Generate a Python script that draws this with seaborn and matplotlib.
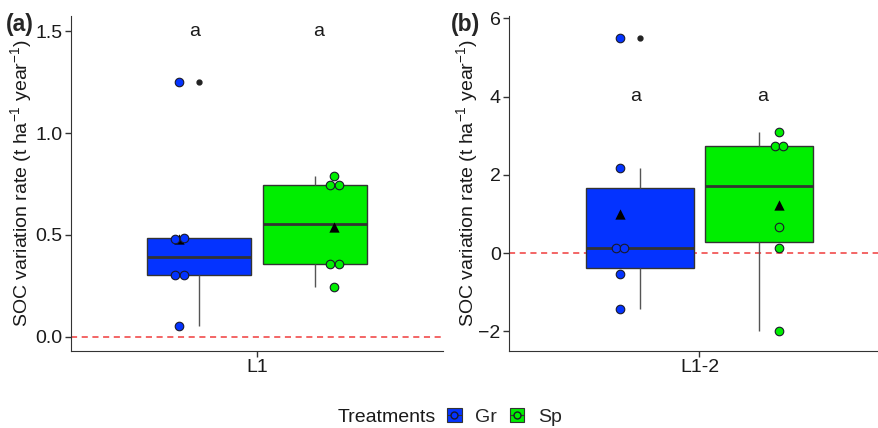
import matplotlib
matplotlib.use('Agg')
import matplotlib.pyplot as plt
from matplotlib.lines import Line2D
from matplotlib.patches import Patch
import seaborn as sns
import pandas as pd
import numpy as np

# values
treatments = ['Gr', 'Sp']
colors = {'Gr': '#0433FF', 'Sp': '#00EE00'}

l1_gr = [0.055, 0.305, 0.305, 0.48, 0.487, 1.25]
l1_sp = [0.245, 0.36, 0.36, 0.745, 0.745, 0.79]
l12_gr = [-1.43, -0.54, 0.14, 0.14, 2.17, 5.5]
l12_sp = [-2.0, 0.14, 0.68, 2.73, 2.73, 3.09]

letters = ['a', 'a']
letter_y = {'L1': 1.5, 'L1-2': 4.0}
ylims = {'L1': (-0.069, 1.574), 'L1-2': (-2.5, 6.06)}
yticks = {'L1': [0.0, 0.5, 1.0, 1.5], 'L1-2': [-2, 0, 2, 4, 6]}

df = pd.DataFrame({
    'site': ['L1'] * 12 + ['L1-2'] * 12,
    'trt': ['Gr'] * 6 + ['Sp'] * 6 + ['Gr'] * 6 + ['Sp'] * 6,
    'soc': l1_gr + l1_sp + l12_gr + l12_sp,
})

sns.set_style('ticks')
plt.rcParams['font.family'] = ['Liberation Sans', 'DejaVu Sans']
plt.rcParams['mathtext.fontset'] = 'custom'
plt.rcParams['mathtext.rm'] = 'Liberation Sans'
plt.rcParams['mathtext.it'] = 'Liberation Sans:italic'
plt.rcParams['axes.edgecolor'] = '#333333'
plt.rcParams['xtick.color'] = '#333333'
plt.rcParams['ytick.color'] = '#333333'
plt.rcParams['xtick.labelcolor'] = '#1a1a1a'
plt.rcParams['ytick.labelcolor'] = '#1a1a1a'

W, H = 879, 428
fig = plt.figure(figsize=(W / 100, H / 100), dpi=100)
ax_a = fig.add_axes([71 / W, 77 / H, 372 / W, 335 / H])
ax_b = fig.add_axes([509 / W, 77 / H, 381 / W, 335 / H])


def spread(vals, tol):
    # side-by-side offsets for (nearly) equal values, like a beeswarm
    vals = np.asarray(vals)
    off = np.zeros(len(vals))
    order = np.argsort(vals)
    groups, cur = [], [order[0]]
    for i in order[1:]:
        if vals[i] - vals[cur[-1]] < tol:
            cur.append(i)
        else:
            groups.append(cur)
            cur = [i]
    groups.append(cur)
    for g in groups:
        n = len(g)
        for k, i in enumerate(g):
            off[i] = (k - (n - 1) / 2) * 0.027
    return off


for ax, site, tag, lx in [(ax_a, 'L1', '(a)', 0.007), (ax_b, 'L1-2', '(b)', 0.513)]:
    sub = df[df.site == site]
    sns.boxplot(data=sub, x='site', y='soc', hue='trt', hue_order=treatments,
                palette=colors, saturation=1, width=0.75, gap=0.1, whis=1.5,
                linecolor='#333333', linewidth=1, fliersize=3.5, showcaps=False,
                medianprops={'linewidth': 2, 'color': '#333333'},
                whiskerprops={'color': '#555555'},
                flierprops={'marker': 'o', 'markerfacecolor': '#222222',
                            'markeredgecolor': '#222222'},
                legend=False, ax=ax)
    lo, hi = ylims[site]
    for j, t in enumerate(treatments):
        v = sub[sub.trt == t].soc.values
        xc = (j - 0.5) * 0.5
        sns.scatterplot(x=[xc], y=[v.mean()], marker='^', color='black', s=55,
                        edgecolor='black', linewidth=0, zorder=3, ax=ax, legend=False)
        sns.scatterplot(x=xc + spread(v, 0.02 * (hi - lo)), y=v, color=colors[t],
                        edgecolor='#1a1a2a', linewidth=0.8, s=38, zorder=4,
                        ax=ax, legend=False)
        ax.text((j - 0.5) * 0.4, letter_y[site], letters[j], ha='center',
                va='center', fontsize=14, color='#1a1a1a')
    ax.axhline(0, color='#F03C3C', linestyle=(0, (4, 3)), linewidth=1.1, zorder=1)
    ax.set_xlim(-0.6, 0.6)
    ax.set_ylim(lo, hi)
    ax.set_yticks(yticks[site])
    if site == 'L1':
        ax.set_yticklabels(['0.0', '0.5', '1.0', '1.5'])
    ax.tick_params(labelsize=14, length=4, width=1, pad=2)
    ax.set_xlabel('')
    ax.set_ylabel(r'SOC variation rate (t ha$^{-1}$ year$^{-1}$)', fontsize=14,
                  color='#1a1a1a')
    sns.despine(ax=ax)
    fig.text(lx, 0.942, tag, fontsize=16.5, fontweight='bold', va='center', ha='left')

ax_a.yaxis.set_label_coords(-37 / 372, 0.5)
ax_b.yaxis.set_label_coords(-29 / 381, 0.5)

# legend at the bottom
fig.text(338 / W, 1 - 418 / H, 'Treatments', fontsize=14, va='center', ha='left',
         color='#1a1a1a')
handles = [(Patch(facecolor=colors[t], edgecolor='#333333', linewidth=0.8),
            Line2D([0.5, 0.5], [0, 1], color='#333333', linewidth=0.8),
            Line2D([], [], marker='o', linestyle='', markersize=5,
                   markerfacecolor=colors[t], markeredgecolor='#1a1a2a'))
           for t in treatments]
fig.legend(handles, treatments, loc='center left', bbox_to_anchor=(447 / W, 1 - 417 / H),
           ncol=2, frameon=False, fontsize=14, handlelength=0.75, handleheight=0.7,
           handletextpad=0.7, columnspacing=0.65, borderpad=0, borderaxespad=0)

fig.savefig('out.png', dpi=100)
